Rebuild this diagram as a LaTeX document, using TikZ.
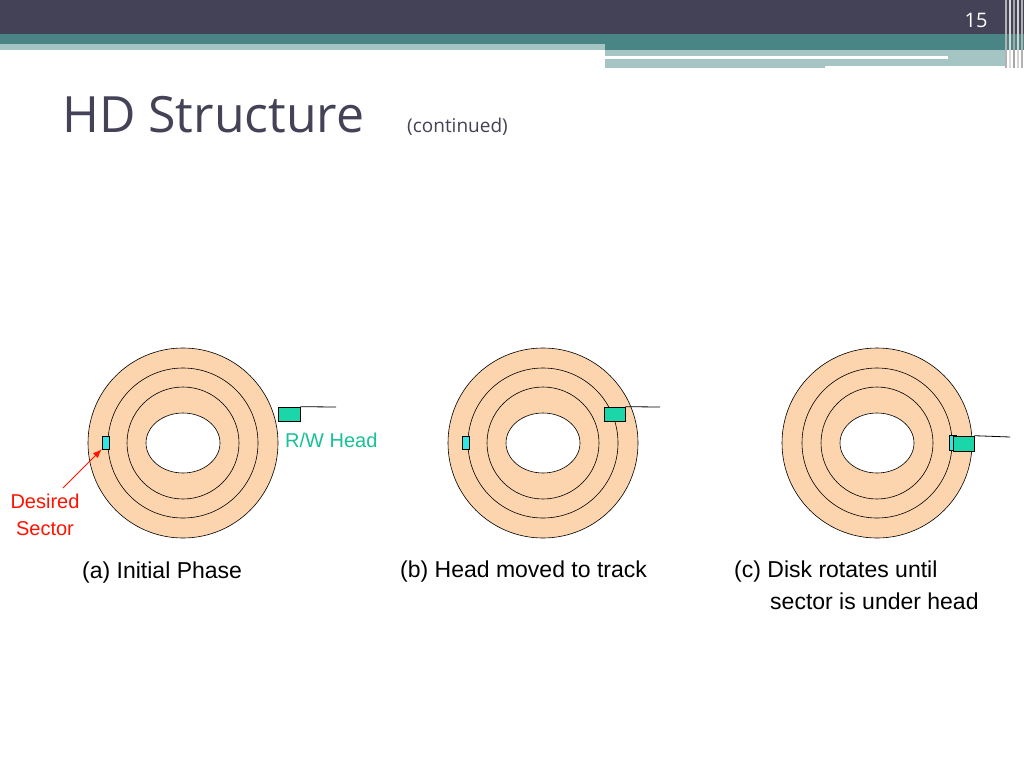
\documentclass[tikz,border=0pt]{standalone}
\usetikzlibrary{arrows.meta}
\usepackage{fontspec}
\setmainfont{Liberation Sans}
\newfontfamily\titlefont{Open Sans}
\begin{document}
\begin{tikzpicture}[x=1pt,y=-1pt,
  disk/.style={fill=diskc,draw=black,line width=0.6pt},
  trk/.style={draw=black,line width=0.6pt},
  head/.style={fill=headc,draw=black,line width=0.6pt},
  sect/.style={fill=sectc,draw=black,line width=0.5pt},
  captext/.style={font=\fontsize{23}{28}\selectfont,anchor=west,align=left,inner sep=0}]
\definecolor{diskc}{HTML}{FCD5AE}
\definecolor{headc}{HTML}{1BD6A8}
\definecolor{sectc}{HTML}{33E6E6}
\definecolor{darkb}{HTML}{434256}
\definecolor{tealb}{HTML}{4A8585}
\definecolor{ltealb}{HTML}{A5C4C4}
\useasboundingbox (0,0) rectangle (1024,768);
\fill[white] (0,0) rectangle (1024,768);
% header
\fill[darkb] (0,0) rectangle (1024,34);
\fill[tealb] (0,34) rectangle (1024,50);
\fill[ltealb] (0,44) rectangle (605,50);
\fill[ltealb] (605,50) rectangle (1005,68);
\fill[white] (605,56) rectangle (948,59);
\fill[white] (825,66) rectangle (1005,69);
\foreach \x/\c in {1005/gray!60,1009/gray!30,1013/gray!70,1017/gray!35,1021/gray!60}
  \fill[\c] (\x,0) rectangle (\x+2,68);
\node[text=white,font=\titlefont\fontsize{20}{24}\selectfont] (pg) at (976,20) {15};
\node[anchor=base west,inner sep=0,text=darkb,font=\titlefont\fontsize{50}{60}\selectfont] (title) at (62,132) {HD Structure};
\node[anchor=base west,inner sep=0,text=darkb,font=\titlefont\fontsize{19}{22}\selectfont] (cont) at (407,132) {(continued)};
% disks
\foreach \cx/\n in {183/a,543/b,877/c}{
  \fill[disk,even odd rule] (\cx,443) circle[radius=95] (\cx,443) ellipse[x radius=37,y radius=30];
  \draw[trk] (\cx,443) circle[radius=75];
  \draw[trk] (\cx,443) circle[radius=56];
}
% sectors
\node[sect,minimum width=7pt,minimum height=13pt,inner sep=0] (sa) at (105.5,442.5) {};
\node[sect,minimum width=7pt,minimum height=13pt,inner sep=0] (sb) at (465.5,442.5) {};
% heads
\node[head,minimum width=22pt,minimum height=14pt,inner sep=0] (ha) at (289,414) {};
\coordinate (ea) at (336,407);
\draw[line width=0.8pt] (ha.north east) -- (ea);
\node[head,minimum width=21pt,minimum height=14pt,inner sep=0] (hb) at (614.5,414) {};
\coordinate (eb) at (660,407);
\draw[line width=0.8pt] (hb.north east) -- (eb);
\node[sect,minimum width=7pt,minimum height=15pt,inner sep=0] (sc) at (952.5,442.5) {};
\node[head,minimum width=21pt,minimum height=15pt,inner sep=0] (hc) at (963.5,443.5) {};
\coordinate (ec) at (1010,437);
\draw[line width=0.8pt] (hc.north east) -- (ec);
% labels
\node[anchor=west,inner sep=0,text=headc!90!black,font=\fontsize{20}{24}\selectfont] (rw) at (285,440) {R/W Head};
\node[align=center,inner sep=0,text=red!85!orange,font=\fontsize{20}{27}\selectfont] (ds) at (45,515) {Desired\\Sector};
\draw[-{Latex[length=9pt,width=7pt]},draw=red!85!orange,fill=red!85!orange,line width=1pt] (63,488) -- (sa.south west);
\node[captext] (ca) at (82,573) {(a) Initial Phase};
\node[captext] (cb) at (400,572) {(b) Head moved to track};
\node[captext] (cc) at (734,572) {(c) Disk rotates until};
\node[captext] (cc2) at (770,601) {sector is under head};
\end{tikzpicture}
\end{document}
